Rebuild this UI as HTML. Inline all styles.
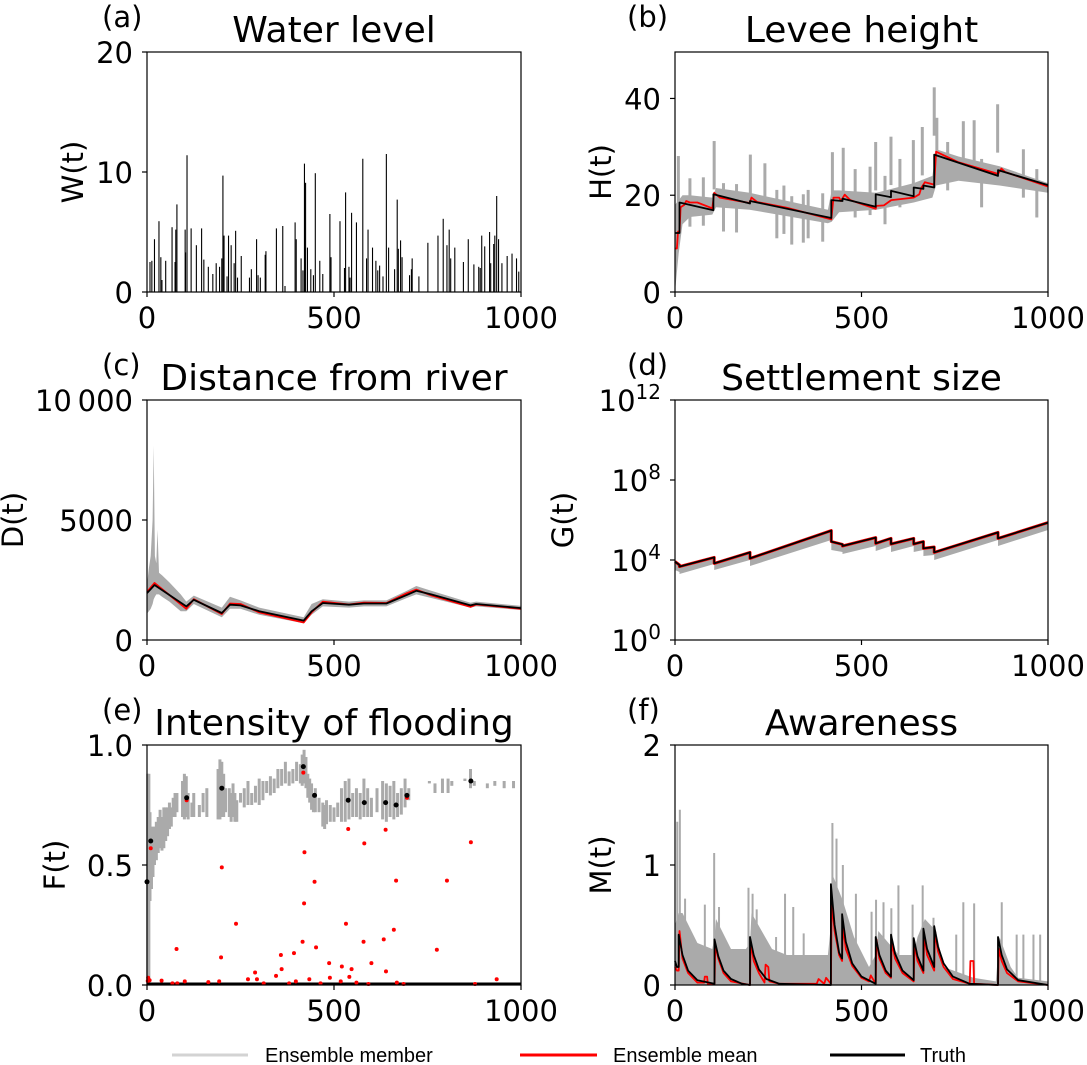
<!DOCTYPE html>
<html><head><meta charset="utf-8"><style>
html,body{margin:0;padding:0;background:#fff;}
svg{display:block;font-family:"DejaVu Sans","Liberation Sans",sans-serif;}
</style></head><body>
<svg id="fig" width="1087" height="1065" viewBox="0 0 1087 1065" xmlns="http://www.w3.org/2000/svg">
<g id="legend" style="font-family:'Liberation Sans',sans-serif">
  <line x1="172" y1="1055" x2="248" y2="1055" stroke="#d3d3d3" stroke-width="3"/>
  <text x="265" y="1062" font-size="20">Ensemble member</text>
  <line x1="520" y1="1055" x2="597" y2="1055" stroke="#ff0000" stroke-width="3"/>
  <text x="613" y="1062" font-size="20">Ensemble mean</text>
  <line x1="830" y1="1055" x2="905" y2="1055" stroke="#000" stroke-width="3"/>
  <text x="920" y="1062" font-size="20">Truth</text>
</g>
</svg>
<script>
// ---------- (a) water level ----------
const wT=[8,13,20,32,37,40,50,67,75,77,80,102,103,107,118,132,146,152,164,176,185,194,200,203,206,214,218,225,233,237,242,252,274,279,293,297,303,316,318,346,363,369,396,399,412,417,421,424,429,438,445,450,462,470,489,492,516,528,531,540,543,547,560,577,587,591,603,612,617,622,631,640,646,662,669,672,678,682,702,707,709,727,751,778,792,802,808,812,823,846,859,874,887,891,895,903,916,919,927,930,935,940,949,963,976,988,994];
const wV=[2.5,2.6,4.4,5.9,2.9,1.0,2.6,5.4,2.5,5.2,7.3,5.2,3.3,11.4,5.3,3.9,5.3,2.7,2.1,1.5,2.4,2.1,2.8,9.7,4.7,1.3,4.7,3.9,2.4,5.1,1.2,3.0,1.2,1.9,4.4,1.4,1.2,3.1,3.4,5.3,5.5,0.5,5.8,4.4,2.8,1.8,10.7,9.1,3.7,1.9,1.4,9.9,2.6,1.5,6.5,2.9,5.9,2.0,8.3,2.1,1.2,6.6,5.8,11.1,2.8,5.2,3.7,2.6,1.8,2.2,1.3,11.5,3.7,1.9,7.7,3.6,4.3,2.9,1.4,1.9,2.8,1.3,4.1,4.7,6.1,3.9,5.2,2.8,3.7,2.5,4.4,2.3,2.1,2.0,4.7,3.8,5.0,2.4,4.0,4.7,8.0,4.4,2.4,3.0,3.2,2.8,1.7];
const wTicks=[0,10,20];
// ---------- (b) levee height ----------
const hT=[0,12,12,103,103,201,201,419,419,449,449,538,538,579,579,640,640,666,666,695,695,866,866,1000];
const hV=[12.2,12.2,18.5,16.9,20.2,18.3,18.8,15.3,19.0,18.8,19.3,17.6,20.2,19.6,20.9,19.8,21.6,21.3,22.0,21.6,28.4,24.0,25.2,22.1];
const hMeanT=[0,5,8,12,15,25,30,40,60,100,105,120,200,205,220,300,419,425,440,445,455,470,538,540,560,580,640,655,660,670,695,700,760,866,875,885,1000];
const hMeanV=[9,9,12.5,12.5,17.5,18,18.8,18.5,18.5,17.3,20.5,19.5,18.4,19.5,18.6,17.4,15.0,19.5,19.5,18.8,20.1,19,17.2,17.8,17.9,19,19.5,20.2,21.5,22.7,22.2,29,26.8,24.4,25.5,24.8,21.8];
const hBandT=[0,10,20,40,100,110,200,410,420,440,540,640,690,700,760,870,1000];
const hBandLo=[0,8,14,15.5,16,17.5,17,14.2,14.5,16.5,17,18.5,19.5,22,23,22,20.5];
const hBandHi=[18,19,20,20,19.5,21.5,20.5,17,21,21,20.5,22.5,24,29.5,28,26,22.5];
const hSpikeT=[9,40,76,105,130,165,202,241,273,292,313,344,357,396,422,451,483,523,538,563,579,603,639,663,695,702,731,773,802,822,865,934,970];
const hSpikeV=[28.1,23.5,23.7,31.2,22.5,22.3,28.4,26.6,21.1,22.0,19.8,20.2,21.1,20.4,28.9,29.8,25.4,25.9,31.0,24.0,32.1,27.5,31.4,34.1,42.3,36.0,31.0,35.3,35.5,27.5,38.8,29.5,25.4];
const hTicks=[0,20,40];
// ---------- (c) distance ----------
const dT=[0,20,105,125,200,222,250,300,419,440,470,540,580,640,695,720,760,865,880,1000];
const dV=[1950,2290,1400,1675,1125,1470,1440,1200,810,1195,1540,1470,1520,1520,1880,2050,1900,1440,1500,1330];
const dMeanT=[0,20,105,125,200,222,250,300,419,440,470,540,580,640,695,720,760,865,880,1000];
const dMeanV=[2000,2380,1300,1700,1080,1520,1500,1150,730,1150,1600,1480,1560,1540,1950,2100,1860,1380,1480,1300];
const dBandT=[0,5,10,15,18,21,25,28,32,40,60,90,105,125,200,222,250,300,419,440,470,540,580,640,695,720,760,865,880,1000];
const dBandLo=[1100,1200,1300,1500,1700,1800,1900,1900,1900,1800,1600,1200,1200,1500,950,1300,1300,1050,700,1050,1400,1350,1400,1400,1750,1900,1750,1350,1400,1250];
const dBandHi=[2300,3000,3500,5000,8100,3500,3200,4600,2800,2700,2400,1900,1600,1850,1350,1800,1650,1350,950,1500,1700,1600,1650,1650,2050,2250,2050,1550,1600,1420];
const dTicks=[0,5000,10000];
const dTickLabels=["0","5000","10\u2009000"];
// ---------- (d) settlement size (log10) ----------
const gT=[0,12,12,105,105,201,201,419,419,449,449,538,538,579,579,640,640,666,666,695,695,866,866,1000];
const gLog=[3.92,3.75,3.67,4.13,3.83,4.38,4.08,5.47,4.92,4.78,4.70,5.12,4.83,5.08,4.80,5.08,4.80,4.92,4.58,4.65,4.38,5.38,5.08,5.87];
const gLoT=[0,12,12,105,105,201,201,419,419,449,449,538,538,579,579,640,640,666,666,695,695,866,866,1000];
const gLoLog=[3.5,3.4,3.3,3.8,3.5,4.0,3.7,5.0,4.5,4.4,4.3,4.7,4.45,4.7,4.4,4.7,4.4,4.5,4.2,4.25,4.0,5.0,4.7,5.5];
const gTicks=[0,4,8,12];
// ---------- (e) intensity of flooding ----------
const fTruthT=[0,10,106,200,418,448,538,581,638,666,695,866];
const fTruthV=[0.43,0.60,0.78,0.82,0.91,0.79,0.77,0.76,0.76,0.75,0.79,0.85];
const fRedT=[10,106,418,695,79,198,200,238,421,420,416,448,452,393,358,360,345,289,270,294,487,489,532,538,581,579,521,547,541,600,638,633,660,666,639,775,802,866,935,434,39,68,81,101,164,193,312,380,398,464,518,560,592,668,686,877,3,7,2];
const fRedV=[0.57,0.77,0.885,0.78,0.15,0.115,0.49,0.255,0.553,0.34,0.18,0.43,0.157,0.133,0.125,0.066,0.038,0.052,0.024,0.024,0.091,0.03,0.255,0.65,0.59,0.18,0.077,0.066,0.034,0.091,0.647,0.19,0.23,0.435,0.057,0.147,0.435,0.595,0.024,0.024,0.018,0.007,0.007,0.015,0.012,0.015,0.007,0.007,0.015,0.007,0.015,0.01,0.004,0.01,0.004,0.004,0.03,0.02,0.017];
const fgT=[2,5,8,12,16,20,25,30,35,40,45,50,55,60,65,70,75,80,95,100,105,110,120,125,140,150,160,190,195,200,205,210,220,225,230,235,240,250,260,270,280,290,300,310,320,330,340,350,360,370,380,390,400,410,415,420,425,430,435,440,445,450,460,470,475,480,490,500,510,520,530,540,550,560,570,580,590,600,615,630,640,650,660,670,680,690,700,755,770,790,805,815,850,865,875,910,930,955,980];
const fgLo=[0,0,0.35,0.4,0.45,0.5,0.52,0.55,0.57,0.56,0.57,0.6,0.62,0.65,0.66,0.7,0.7,0.72,0.7,0.69,0.7,0.69,0.7,0.7,0.7,0.72,0.7,0.69,0.69,0.7,0.7,0.72,0.7,0.68,0.7,0.68,0.68,0.76,0.74,0.75,0.75,0.76,0.75,0.77,0.8,0.79,0.8,0.82,0.83,0.84,0.83,0.84,0.85,0.84,0.83,0.84,0.82,0.78,0.76,0.73,0.72,0.72,0.72,0.66,0.65,0.67,0.68,0.68,0.7,0.68,0.68,0.69,0.7,0.7,0.69,0.7,0.7,0.7,0.72,0.69,0.68,0.7,0.69,0.7,0.71,0.74,0.77,0.84,0.8,0.8,0.8,0.83,0.85,0.82,0.83,0.82,0.83,0.82,0.82];
const fgHi=[0.88,0.88,0.72,0.66,0.62,0.66,0.68,0.7,0.73,0.7,0.74,0.74,0.74,0.76,0.74,0.78,0.8,0.8,0.85,0.88,0.87,0.8,0.76,0.8,0.75,0.8,0.82,0.9,0.94,0.93,0.88,0.82,0.82,0.8,0.84,0.8,0.77,0.8,0.82,0.85,0.8,0.83,0.86,0.85,0.85,0.87,0.86,0.9,0.9,0.93,0.89,0.9,0.93,0.92,0.96,0.98,0.95,0.88,0.86,0.84,0.8,0.82,0.78,0.76,0.75,0.77,0.75,0.74,0.76,0.82,0.85,0.86,0.8,0.82,0.8,0.86,0.82,0.78,0.82,0.85,0.84,0.83,0.85,0.8,0.82,0.86,0.82,0.85,0.84,0.86,0.86,0.85,0.86,0.9,0.85,0.84,0.85,0.85,0.85];
const fTicks=[0,0.5,1.0];
const fTickLabels=["0.0","0.5","1.0"];
// ---------- (f) awareness ----------
const mT=[0,5,10,10,20,35,60,106,106,116,130,150,180,201,201,211,225,245,280,418,418,428,440,448,448,458,475,500,538,538,548,565,579,579,590,610,640,640,650,666,666,676,695,695,705,720,745,790,866,866,876,890,920,1000];
const mV=[0.2,0.15,0.15,0.42,0.25,0.12,0.04,0.01,0.38,0.24,0.12,0.05,0.01,0.0,0.4,0.25,0.13,0.05,0.01,0.0,0.84,0.5,0.27,0.22,0.59,0.36,0.18,0.07,0.01,0.40,0.25,0.12,0.07,0.42,0.26,0.12,0.04,0.39,0.24,0.12,0.47,0.3,0.15,0.49,0.32,0.18,0.07,0.01,0.0,0.40,0.25,0.13,0.04,0.0];
const mMeanT=[0,5,10,12,20,35,60,78,80,86,88,106,108,116,130,150,201,203,211,225,240,243,250,253,280,380,385,400,405,418,420,428,440,448,450,458,475,500,520,525,538,540,548,565,579,581,590,610,640,642,650,666,668,676,695,697,705,720,745,790,792,800,802,866,868,876,890,920,1000];
const mMeanV=[0.15,0.12,0.12,0.45,0.22,0.1,0.02,0.02,0.07,0.07,0.01,0.01,0.33,0.22,0.1,0.03,0.0,0.36,0.2,0.1,0.02,0.17,0.15,0.03,0.01,0.01,0.05,0.01,0.06,0.01,0.7,0.45,0.25,0.2,0.5,0.3,0.16,0.06,0.03,0.08,0.01,0.38,0.22,0.1,0.06,0.36,0.22,0.1,0.03,0.34,0.2,0.1,0.42,0.25,0.12,0.45,0.28,0.15,0.05,0.01,0.2,0.2,0.01,0.0,0.3,0.2,0.1,0.03,0.0];
const mBandT=[0,10,20,60,100,106,110,150,190,201,205,260,300,410,418,425,450,480,520,538,545,600,640,650,670,700,720,800,860,870,900,920,1000];
const mBandHi=[0.5,0.6,0.6,0.35,0.3,0.4,0.55,0.3,0.3,0.35,0.6,0.3,0.25,0.25,0.5,0.9,0.7,0.4,0.15,0.25,0.45,0.25,0.25,0.4,0.55,0.45,0.15,0.06,0.03,0.4,0.15,0.06,0.03];
const mSpikeT=[6,13,27,80,105,118,197,208,219,271,295,317,345,422,433,450,485,527,539,559,580,599,637,664,693,754,773,802,876,916,934,961,979];
const mSpikeV=[1.36,1.46,0.72,0.67,1.1,0.65,0.81,0.76,0.63,0.4,0.76,0.65,0.43,1.35,1.22,1.0,0.76,0.61,0.71,0.69,0.64,0.83,0.67,0.83,0.56,0.42,0.69,0.68,0.69,0.42,0.42,0.42,0.42];
const mTicks=[0,1,2];
const xTicks=[0,500,1000];

// ---------- drawing ----------
const NS='http://www.w3.org/2000/svg';
const svg=document.getElementById('fig');
function mk(tag,attrs,parent){const e=document.createElementNS(NS,tag);for(const k in attrs)e.setAttribute(k,attrs[k]);parent.appendChild(e);return e;}
function lin(d0,d1,r0,r1){return v=>r0+(v-d0)/(d1-d0)*(r1-r0);}
function pathD(xs,ys,sx,sy){return xs.map((t,i)=>(i?'L':'M')+sx(t).toFixed(1)+','+sy(ys[i]).toFixed(1)).join('');}
function bandD(xs,lo,hi,sx,sy){let d=pathD(xs,hi,sx,sy);for(let i=xs.length-1;i>=0;i--)d+='L'+sx(xs[i]).toFixed(1)+','+sy(lo[i]).toFixed(1);return d+'Z';}

function panel(o){
  const g=mk('g',{},svg);
  
  
  const sx=lin(0,1000,o.x,o.x+o.w);
  const sy=lin(o.y0,o.y1,o.y+o.h,o.y);
  const plot=mk('g',{},g);
  
  
  o.draw(plot,sx,sy);
  const frame=mk('rect',{x:o.x,y:o.y,width:o.w,height:o.h,fill:'none',stroke:'#000','stroke-width':1.2},g);
  
  
  xTicks.forEach(t=>{
    const tk=mk('line',{x1:sx(t),x2:sx(t),y1:o.y+o.h,y2:o.y+o.h+5,stroke:'#000','stroke-width':1.2},g);
    
    
    const lb=mk('text',{x:sx(t),y:o.y+o.h+36,'font-size':29,'text-anchor':'middle'},g);
    
    
    lb.textContent=t;
  });
  o.yTicks.forEach((v,i)=>{
    const tk=mk('line',{x1:o.x-5,x2:o.x,y1:sy(v),y2:sy(v),stroke:'#000','stroke-width':1.2},g);
    
    
    const lb=mk('text',{x:o.x-14,y:sy(v)+11,'font-size':29,'text-anchor':'end'},g);
    
    
    if(o.log){lb.textContent='10';const s=mk('tspan',{dy:-12,'font-size':20},lb);s.textContent=v;}
    else lb.textContent=o.yLabels?o.yLabels[i]:v;
  });
  const yl=mk('text',{x:0,y:0,'font-size':29,'text-anchor':'middle',transform:'translate('+(o.x-o.yo)+','+(o.y+o.h/2)+') rotate(-90)'},g);
  
  
  yl.textContent=o.ylabel;
  const tt=mk('text',{x:o.x+o.w/2,y:o.y-10,'font-size':36,'text-anchor':'middle'},g);
  
  
  tt.textContent=o.title;
  const lt=mk('text',{x:o.lx,y:o.y-25,'font-size':29},g);
  
  
  lt.textContent=o.letter;
}
const GRAY='#aaaaaa';
function line(parent,xs,ys,sx,sy,color,w,name){
  const p=mk('path',{d:pathD(xs,ys,sx,sy),fill:'none',stroke:color,'stroke-width':w,'stroke-linejoin':'round'},parent);
  
  
  return p;
}

panel({name:'water-level',x:147,y:52,w:374,h:240,y0:0,y1:20,yTicks:wTicks,ylabel:'W(t)',yo:64,title:'Water level',letter:'(a)',lx:102,
 draw:(g,sx,sy)=>{wT.forEach((t,i)=>{
   const b=mk('line',{x1:sx(t),x2:sx(t),y1:sy(0),y2:sy(wV[i]),stroke:'#000','stroke-width':1.1},g);
   
   
 });}});

panel({name:'levee-height',x:675,y:52,w:373,h:240,y0:0,y1:49.6,yTicks:hTicks,ylabel:'H(t)',yo:64,title:'Levee height',letter:'(b)',lx:627,
 draw:(g,sx,sy)=>{
   const b=mk('path',{d:bandD(hBandT,hBandLo,hBandHi,sx,sy),fill:GRAY},g);
   
   
   hSpikeT.forEach((t,i)=>{
     const s=mk('line',{x1:sx(t),x2:sx(t),y1:sy(hSpikeV[i]),y2:sy(hSpikeV[i]-10),stroke:GRAY,'stroke-width':3},g);
     
     
   });
   line(g,hMeanT,hMeanV,sx,sy,'#ff0000',1.8,'ensemble-mean-line');
   line(g,hT,hV,sx,sy,'#000',1.8,'truth-line');
 }});

panel({name:'distance-from-river',x:147,y:400,w:374,h:240,y0:0,y1:10000,yTicks:dTicks,yLabels:dTickLabels,ylabel:'D(t)',yo:124,title:'Distance from river',letter:'(c)',lx:102,
 draw:(g,sx,sy)=>{
   const b=mk('path',{d:bandD(dBandT,dBandLo,dBandHi,sx,sy),fill:GRAY},g);
   
   
   line(g,dMeanT,dMeanV,sx,sy,'#ff0000',1.8,'ensemble-mean-line');
   line(g,dT,dV,sx,sy,'#000',1.8,'truth-line');
 }});

panel({name:'settlement-size',x:675,y:400,w:373,h:240,y0:0,y1:12,yTicks:gTicks,log:true,ylabel:'G(t)',yo:102,title:'Settlement size',letter:'(d)',lx:627,
 draw:(g,sx,sy)=>{
   const lo=mk('path',{d:bandD(gLoT,gLoLog,gLog,sx,sy),fill:GRAY},g);
   
   
   line(g,gT,gLog,sx,sy,'#ff0000',3,'ensemble-mean-line');
   line(g,gT,gLog,sx,sy,'#000',1.8,'truth-line');
 }});

panel({name:'intensity-of-flooding',x:147,y:745,w:374,h:240,y0:0,y1:1,yTicks:fTicks,yLabels:fTickLabels,ylabel:'F(t)',yo:82,title:'Intensity of flooding',letter:'(e)',lx:102,
 draw:(g,sx,sy)=>{
   fgT.forEach((t,i)=>{
     const r=mk('rect',{x:sx(t)-1.5,y:sy(fgHi[i]),width:3,height:sy(fgLo[i])-sy(fgHi[i]),fill:GRAY},g);
     
     
   });
   const z=mk('line',{x1:sx(0),x2:sx(1000),y1:sy(0)-1,y2:sy(0)-1,stroke:'#000','stroke-width':3},g);
   
   
   fRedT.forEach((t,i)=>{
     const c=mk('circle',{cx:sx(t),cy:sy(fRedV[i]),r:2,fill:'#ff0000'},g);
     
     
   });
   fTruthT.forEach((t,i)=>{
     const c=mk('circle',{cx:sx(t),cy:sy(fTruthV[i]),r:2.5,fill:'#000'},g);
     
     
   });
 }});

panel({name:'awareness',x:675,y:745,w:373,h:240,y0:0,y1:2,yTicks:mTicks,ylabel:'M(t)',yo:64,title:'Awareness',letter:'(f)',lx:627,
 draw:(g,sx,sy)=>{
   const b=mk('path',{d:bandD(mBandT,mBandT.map(()=>0),mBandHi,sx,sy),fill:GRAY},g);
   
   
   mSpikeT.forEach((t,i)=>{
     const s=mk('line',{x1:sx(t),x2:sx(t),y1:sy(mSpikeV[i]),y2:sy(0),stroke:GRAY,'stroke-width':2},g);
     
     
   });
   line(g,mMeanT,mMeanV,sx,sy,'#ff0000',1.8,'ensemble-mean-line');
   line(g,mT,mV,sx,sy,'#000',1.8,'truth-line');
 }});
</script>
</body></html>
